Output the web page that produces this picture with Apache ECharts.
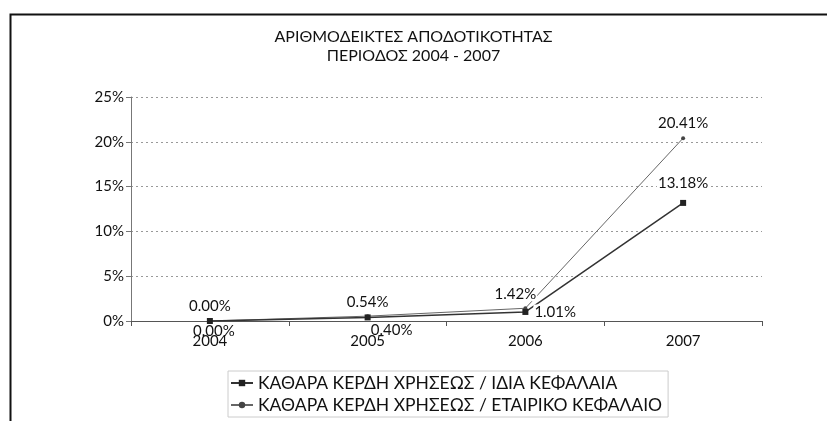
<!DOCTYPE html>
<html>
<head>
<meta charset="utf-8">
<script src="https://cdn.jsdelivr.net/npm/echarts@6/dist/echarts.min.js"></script>
<style>
  html, body { margin: 0; padding: 0; background: #fff; }
  #chart { width: 827px; height: 421px; }
</style>
</head>
<body>
<div id="chart"></div>
<script>
// κατηγορίες (έτη)
var years = ['2004', '2005', '2006', '2007']
// ΚΑΘΑΡΑ ΚΕΡΔΗ ΧΡΗΣΕΩΣ / ΙΔΙΑ ΚΕΦΑΛΑΙΑ (%)
var equityRatio = [0.00, 0.40, 1.01, 13.18]
// ΚΑΘΑΡΑ ΚΕΡΔΗ ΧΡΗΣΕΩΣ / ΕΤΑΙΡΙΚΟ ΚΕΦΑΛΑΙΟ (%)
var capitalRatio = [0.00, 0.54, 1.42, 20.41]
var seriesNames = [
  'ΚΑΘΑΡΑ ΚΕΡΔΗ ΧΡΗΣΕΩΣ / ΙΔΙΑ ΚΕΦΑΛΑΙΑ',
  'ΚΑΘΑΡΑ ΚΕΡΔΗ ΧΡΗΣΕΩΣ / ΕΤΑΙΡΙΚΟ ΚΕΦΑΛΑΙΟ'
]
var titleLines = ['ΑΡΙΘΜΟΔΕΙΚΤΕΣ ΑΠΟΔΟΤΙΚΟΤΗΤΑΣ', 'ΠΕΡΙΟΔΟΣ 2004 - 2007']

var FONT = 'Lato, "Open Sans", sans-serif'

// θέσεις ετικετών ανά σημείο (οι κάτω ετικέτες χωρίς φόντο, για να φαίνονται τα έτη)
var equityLabel = [
  { position: 'bottom', offset: [4, -5], backgroundColor: 'transparent' },
  { position: 'bottom', offset: [24, -3], backgroundColor: 'transparent' },
  { position: 'right', offset: [0, 0] },
  { position: 'top', offset: [0, 0], distance: 9 }
]
var capitalLabel = [
  { position: 'top', offset: [0, 0] },
  { position: 'top', offset: [0, 0] },
  { position: 'top', offset: [-10, 0] },
  { position: 'top', offset: [0, 0] }
]

function buildData(values, labels) {
  return values.map(function (v, i) {
    return { value: v, label: labels[i] }
  })
}

var labelBase = {
  show: true,
  fontFamily: FONT,
  fontSize: 15,
  color: '#111',
  backgroundColor: '#fff',
  padding: [0, 1],
  formatter: function (p) { return p.value.toFixed(2) + '%' }
}

var chart = echarts.init(document.getElementById('chart'))
chart.setOption({
  animation: false,
  backgroundColor: '#fff',
  title: {
    text: titleLines.join('\n'),
    left: 'center',
    top: 22,
    textStyle: { fontFamily: FONT, fontSize: 16, fontWeight: 'normal', color: '#111', lineHeight: 19 }
  },
  graphic: [{
    type: 'rect',
    left: 8, top: 12,
    shape: { width: 840, height: 440 },
    style: { fill: 'none', stroke: '#111', lineWidth: 2 },
    z: -1
  }],
  legend: {
    orient: 'vertical',
    left: 228,
    top: 371,
    itemWidth: 22,
    itemHeight: 8,
    itemGap: 4,
    padding: [3, 6, 3, 2],
    borderColor: '#ccc',
    borderWidth: 1,
    textStyle: { fontFamily: FONT, fontSize: 17.5, color: '#111' },
    data: seriesNames
  },
  grid: { left: 131, right: 65, top: 97, bottom: 100 },
  xAxis: {
    type: 'category',
    data: years,
    boundaryGap: true,
    axisLine: { lineStyle: { color: '#555', width: 1 } },
    axisTick: { show: true, length: 5, lineStyle: { color: '#555' } },
    axisLabel: { fontFamily: FONT, fontSize: 15, color: '#111', margin: 13 }
  },
  yAxis: {
    type: 'value',
    min: 0,
    max: 25,
    interval: 5,
    axisLine: { show: true, lineStyle: { color: '#777', width: 1 } },
    axisTick: { show: true, length: 5, lineStyle: { color: '#777' } },
    axisLabel: {
      fontFamily: FONT, fontSize: 15, color: '#111', margin: 7,
      formatter: '{value}%'
    },
    splitLine: { lineStyle: { color: '#999', type: [2, 3], width: 1 } }
  },
  series: [
    {
      name: seriesNames[0],
      type: 'line',
      data: buildData(equityRatio, equityLabel),
      symbol: 'rect',
      symbolSize: 6,
      itemStyle: { color: '#222' },
      lineStyle: { color: '#333', width: 1.5 },
      label: labelBase,
      z: 3
    },
    {
      name: seriesNames[1],
      type: 'line',
      data: buildData(capitalRatio, capitalLabel),
      symbol: 'circle',
      symbolSize: 4,
      itemStyle: { color: '#444' },
      lineStyle: { color: '#666', width: 1 },
      label: labelBase,
      z: 2
    }
  ]
})
</script>
</body>
</html>
